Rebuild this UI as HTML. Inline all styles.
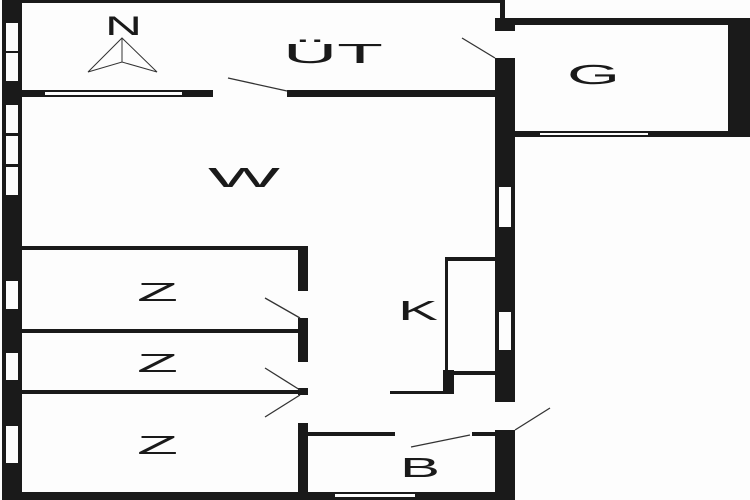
<!DOCTYPE html>
<html><head><meta charset="utf-8"><style>html,body{margin:0;padding:0;background:#fdfdfd}svg{display:block}</style></head>
<body>
<svg width="750" height="500" viewBox="0 0 750 500" xmlns="http://www.w3.org/2000/svg">
<rect width="750" height="500" fill="#fdfdfd"/>
<g fill="#1a1a1a">
<!-- left wall -->
<rect x="2" y="0" width="20" height="500"/>
<!-- top thin wall -->
<rect x="20" y="0" width="485" height="3"/>
<rect x="500" y="0" width="5" height="20"/>
<!-- UT bottom wall -->
<rect x="20" y="90" width="193" height="7"/>
<rect x="287" y="90" width="210" height="7"/>
<!-- right main wall -->
<rect x="495" y="18" width="20" height="13"/>
<rect x="495" y="58" width="20" height="344"/>
<rect x="495" y="430" width="20" height="70"/>
<!-- G -->
<rect x="495" y="18" width="255" height="7"/>
<rect x="728" y="18" width="22" height="119"/>
<rect x="515" y="131" width="235" height="6"/>
<!-- bottom wall -->
<rect x="20" y="492" width="495" height="8"/>
<!-- Z walls -->
<rect x="20" y="246" width="285" height="4"/>
<rect x="20" y="329" width="285" height="4"/>
<rect x="20" y="390" width="285" height="4"/>
<rect x="298" y="246" width="10" height="45"/>
<rect x="298" y="318" width="10" height="44"/>
<rect x="298" y="388" width="10" height="7"/>
<rect x="298" y="423" width="10" height="77"/>
<!-- B top -->
<rect x="308" y="432" width="87" height="4"/>
<rect x="472" y="432" width="25" height="4"/>
<!-- K -->
<rect x="445" y="257" width="50" height="4"/>
<rect x="445" y="257" width="3" height="115"/>
<rect x="445" y="371" width="50" height="4"/>
<rect x="443" y="370" width="11" height="24"/>
<rect x="390" y="391" width="64" height="3"/>
</g>
<g fill="#fdfdfd">
<!-- left windows -->
<rect x="6" y="23" width="12" height="28"/>
<rect x="6" y="53" width="12" height="28"/>
<rect x="6" y="105" width="12" height="28"/>
<rect x="6" y="136" width="12" height="28"/>
<rect x="6" y="167" width="12" height="28"/>
<rect x="6" y="281" width="12" height="28"/>
<rect x="6" y="353" width="12" height="27"/>
<rect x="6" y="426" width="12" height="37"/>
<!-- UT window -->
<rect x="45" y="92" width="137" height="3"/>
<!-- right wall windows -->
<rect x="499" y="187" width="12" height="40"/>
<rect x="499" y="312" width="12" height="38"/>
<!-- G window -->
<rect x="540" y="133" width="108" height="2"/>
<!-- bottom window -->
<rect x="335" y="494" width="80" height="3"/>
</g>
<g stroke="#333" stroke-width="1.3" fill="none">
<line x1="228" y1="78" x2="287" y2="91"/>
<line x1="462" y1="38" x2="495" y2="58"/>
<line x1="265" y1="298" x2="300" y2="318"/>
<line x1="265" y1="368" x2="300" y2="390"/>
<line x1="265" y1="417" x2="300" y2="395"/>
<line x1="411" y1="447" x2="470" y2="435"/>
<line x1="515" y1="430" x2="550" y2="408"/>
<polygon points="88,72 122,38 157,72 122,62" stroke-width="1"/>
<line x1="122" y1="38" x2="122" y2="62" stroke-width="1"/>
</g>
<g font-family="Liberation Sans, sans-serif" fill="#1a1a1a" font-size="28" lengthAdjust="spacingAndGlyphs">
<text x="105" y="35" textLength="37" lengthAdjust="spacingAndGlyphs" font-size="27">N</text>
<text x="283" y="63" textLength="100" lengthAdjust="spacingAndGlyphs">ÜT</text>
<text x="567" y="84" textLength="53" lengthAdjust="spacingAndGlyphs">G</text>
<text x="208" y="187" textLength="72" lengthAdjust="spacingAndGlyphs">W</text>
<text x="137" y="301" textLength="41" lengthAdjust="spacingAndGlyphs" font-size="26">Z</text>
<text x="137" y="372" textLength="41" lengthAdjust="spacingAndGlyphs" font-size="26">Z</text>
<text x="137" y="454" textLength="41" lengthAdjust="spacingAndGlyphs" font-size="26">Z</text>
<text x="398" y="320" textLength="40" lengthAdjust="spacingAndGlyphs">K</text>
<text x="400" y="477" textLength="40" lengthAdjust="spacingAndGlyphs">B</text>
</g>
</svg>
</body></html>
